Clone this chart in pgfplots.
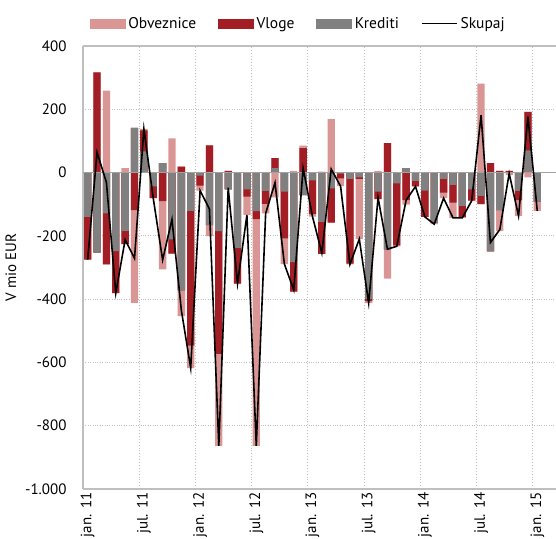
\documentclass[border=0pt]{standalone}
\usepackage{fontspec}
\setmainfont{PT Sans}
\usepackage{pgfplots}
\usepackage{pgfplotstable}
\pgfplotsset{compat=1.18}

\definecolor{obv}{RGB}{218,150,148}
\definecolor{vlo}{RGB}{162,30,36}
\definecolor{kre}{RGB}{128,128,128}
\definecolor{gridc}{RGB}{191,191,191}

% monthly flows, jan.11 (i=0) .. jan.15 (i=48)
\pgfplotstableread{
i O V K
0 0 -135 -140
1 0 317 -253
2 259 -161 -129
3 0 -133 -248
4 14 -42 -184
5 -293 -119 141
6 5 66 67
7 0 -37 -44
8 -216 -90 30
9 108 -45 -211
10 -82 19 -372
11 -71 -426 -121
12 -16 -31 -10
13 -35 86 -166
14 -291 -388 -185
15 0 5 -53
16 0 -113 -238
17 -58 -23 -53
18 -717 -25 -122
19 -30 -41 -58
20 -78 32 14
21 -81 -148 -60
22 5 -93 -283
23 8 77 -71
24 -8 -106 -25
25 3 -101 -156
26 169 -108 -50
27 -25 -15 -3
28 -2 -268 -20
29 -190 -5 -15
30 -6 -7 -399
31 5 -24 -60
32 -92 93 -243
33 -3 -196 -34
34 -14 -87 14
35 0 -18 -26
36 0 -83 -57
37 -5 0 -158
38 -18 -43 -20
39 -48 -56 -39
40 -3 -35 -105
41 0 -36 -53
42 281 -26 -74
43 -3 30 -248
44 -66 5 -119
45 -8 5 0
46 -50 -29 -58
47 -15 122 70
48 -29 0 -92
}\data

\begin{document}
\begin{tikzpicture}
\begin{axis}[
  scale only axis, width=473pt, height=443pt,
  xmin=-0.5, xmax=50, ymin=-1000, ymax=400,
  font=\fontsize{15}{18}\selectfont,
  axis x line*=bottom, axis y line*=left,
  axis line style={gridc, line width=1.2pt},
  xtick={0,6,...,48},
  xticklabels={jan. 11,jul. 11,jan. 12,jul. 12,jan. 13,jul. 13,jan. 14,jul. 14,jan. 15},
  x tick label style={rotate=90, anchor=east},
  minor xtick={5.5,11.5,17.5,23.5,29.5,35.5,41.5,47.5},
  xminorgrids,
  ytick={-1000,-800,...,400},
  yticklabels={-1.000,-800,-600,-400,-200,0,200,400},
  y tick label style={xshift=-13pt},
  ymajorgrids,
  grid style={gridc, dotted, line width=0.9pt},
  minor grid style={gridc, dotted, line width=0.9pt},
  major tick length=0pt, minor tick length=0pt,
  ylabel={V mio EUR},
  ylabel style={yshift=2pt},
  legend columns=4,
  legend style={draw=none, fill=none, at={(0.008,1)}, anchor=south west,
    yshift=12pt, font=\fontsize{15.5}{18}\selectfont,
    nodes={inner sep=2pt},
    /tikz/every even column/.append style={column sep=20pt},
    /tikz/every odd column/.append style={column sep=1pt}},
]
\coordinate (bl) at (rel axis cs:0,0);
\coordinate (tr) at (rel axis cs:1,1);

\addlegendimage{legend image code/.code={\fill[obv] (0pt,-4.5pt) rectangle (35pt,4.5pt);}}
\addlegendentry{Obveznice}
\addlegendimage{legend image code/.code={\fill[vlo] (0pt,-4.5pt) rectangle (35pt,4.5pt);}}
\addlegendentry{Vloge}
\addlegendimage{legend image code/.code={\fill[kre] (0pt,-4.5pt) rectangle (35pt,4.5pt);}}
\addlegendentry{Krediti}
\addlegendimage{legend image code/.code={\draw[black, line width=1.6pt] (0pt,0pt) -- (35pt,0pt);}}
\addlegendentry{Skupaj}

% positive stacks (Krediti nearest zero, then Vloge, then Obveznice)
\addplot[ybar, bar width=0.78, bar shift=0pt, fill=obv, draw=none, forget plot]
  table[x=i, y expr={max(\thisrow{K},0)+max(\thisrow{V},0)+max(\thisrow{O},0)}] {\data};
\addplot[ybar, bar width=0.78, bar shift=0pt, fill=vlo, draw=none, forget plot]
  table[x=i, y expr={max(\thisrow{K},0)+max(\thisrow{V},0)}] {\data};
\addplot[ybar, bar width=0.78, bar shift=0pt, fill=kre, draw=none, forget plot]
  table[x=i, y expr={max(\thisrow{K},0)}] {\data};
% negative stacks
\addplot[ybar, bar width=0.78, bar shift=0pt, fill=obv, draw=none, forget plot]
  table[x=i, y expr={min(\thisrow{K},0)+min(\thisrow{V},0)+min(\thisrow{O},0)}] {\data};
\addplot[ybar, bar width=0.78, bar shift=0pt, fill=vlo, draw=none, forget plot]
  table[x=i, y expr={min(\thisrow{K},0)+min(\thisrow{V},0)}] {\data};
\addplot[ybar, bar width=0.78, bar shift=0pt, fill=kre, draw=none, forget plot]
  table[x=i, y expr={min(\thisrow{K},0)}] {\data};

\draw[gridc, line width=1.2pt] (rel axis cs:0,1) -- (rel axis cs:1,1);
\draw[gridc!85!black, line width=1.6pt] (axis cs:-0.5,0) -- (axis cs:50,0);

\addplot[black, line width=1.6pt, mark=none, forget plot]
  table[x=i, y expr={\thisrow{K}+\thisrow{V}+\thisrow{O}}] {\data};
\end{axis}
\pgfresetboundingbox
\path ([shift={(-83pt,-49pt)}]bl) rectangle ([shift={(0pt,46pt)}]tr);
\end{tikzpicture}
\end{document}
